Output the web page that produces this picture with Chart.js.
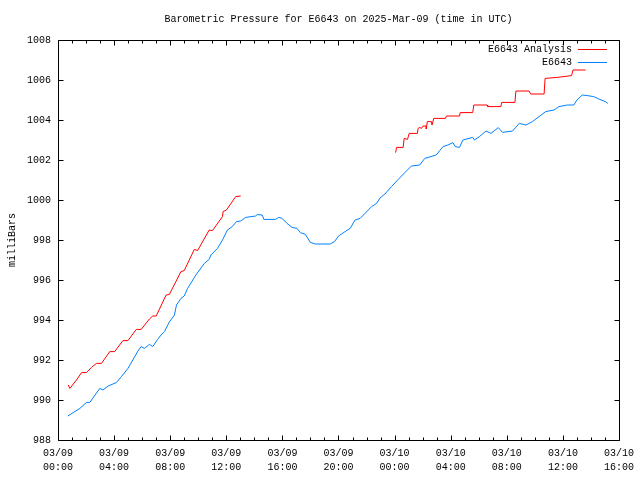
<!DOCTYPE html>
<html>
<head>
<meta charset="utf-8">
<title>Barometric Pressure E6643</title>
<script src="https://cdn.jsdelivr.net/npm/chart.js@4"></script>
<style>
  body { margin: 0; background: #fff; }
</style>
</head>
<body>
<canvas id="pressureChart" width="640" height="480"></canvas>
<script>
// chart text
const chartTitle = 'Barometric Pressure for E6643 on 2025-Mar-09 (time in UTC)';
const yTitle = 'milliBars';
// tick labels, one per 4 hours starting 03/09 00:00
const xTickDates = ['03/09', '03/09', '03/09', '03/09', '03/09', '03/09', '03/10', '03/10', '03/10', '03/10', '03/10'];
const xTickTimes = ['00:00', '04:00', '08:00', '12:00', '16:00', '20:00', '00:00', '04:00', '08:00', '12:00', '16:00'];

// E6643 Analysis (hours since 03/09 00:00 UTC, mbar); null = no data
const analysisHours = [0.73, 0.85, 1.32, 1.68, 2.03, 2.39, 2.74, 3.10, 3.69, 4.04, 4.63, 4.99, 5.58, 5.93,
  6.52, 6.76, 7.00, 7.71, 7.94, 8.77, 9.00, 9.72, 9.95, 10.78, 11.01, 11.73, 11.77, 12.01, 12.67, 13.03,
  18.00,
  24.07, 24.14, 24.61, 24.68, 24.92, 25.04, 25.63, 25.67, 25.79, 25.91, 26.03, 26.26, 26.26, 26.33, 26.62,
  26.67, 26.79, 27.62, 27.70, 28.63, 28.68, 29.57, 29.65, 30.59, 30.64, 31.58, 31.63, 32.58, 32.65, 33.59,
  33.70, 34.66, 34.73, 35.60, 36.62, 36.72, 37.62];
const analysisMbar = [990.75, 990.58, 991.00, 991.37, 991.37, 991.63, 991.83, 991.83, 992.42, 992.42, 992.97, 992.97, 993.53, 993.53,
  994.05, 994.20, 994.20, 995.25, 995.28, 996.42, 996.47, 997.53, 997.47, 998.50, 998.47, 999.17, 999.42, 999.50, 1000.17, 1000.20,
  null,
  1002.37, 1002.63, 1002.63, 1003.08, 1003.03, 1003.33, 1003.33, 1003.58, 1003.63, 1003.58, 1003.70, 1003.70, 1003.55, 1003.92, 1003.92,
  1003.75, 1004.08, 1004.08, 1004.20, 1004.20, 1004.37, 1004.37, 1004.75, 1004.75, 1004.67, 1004.67, 1004.88, 1004.88, 1005.45, 1005.45,
  1005.30, 1005.30, 1006.08, 1006.13, 1006.22, 1006.50, 1006.50];

// E6643 station observations
const stationHours = [0.69, 1.56, 2.03, 2.27, 2.98, 3.21, 3.57, 4.16, 4.52, 4.99, 5.70, 5.93, 6.17, 6.52, 6.76,
  7.10, 7.35, 7.59, 7.94, 8.30, 8.45, 8.77, 9.00, 9.24, 9.83, 10.43, 10.78, 10.90, 11.37, 11.73, 12.08,
  12.43, 12.72, 13.03, 13.38, 14.09, 14.20, 14.56, 14.68, 15.51, 15.74, 15.98, 16.33, 16.69, 17.04, 17.28,
  17.64, 17.99, 18.35, 19.41, 19.72, 20.00, 20.47, 20.83, 21.18, 21.54, 21.89, 22.36, 22.72, 22.96, 23.31,
  23.78, 24.26, 24.73, 25.20, 25.79, 26.15, 26.97, 27.45, 27.80, 28.16, 28.32, 28.63, 28.87, 29.57, 29.69,
  30.05, 30.52, 30.87, 31.39, 31.70, 32.41, 32.89, 33.36, 33.83, 34.30, 34.77, 35.37, 35.72, 36.31, 36.78,
  37.00, 37.38, 37.73, 38.20, 38.56, 39.03, 39.20];
const stationMbar = [989.20, 989.58, 989.88, 989.88, 990.58, 990.50, 990.70, 990.87, 991.17, 991.58, 992.45, 992.67, 992.58, 992.78, 992.67,
  993.03, 993.25, 993.42, 993.90, 994.25, 994.75, 995.08, 995.20, 995.58, 996.25, 996.83, 997.03, 997.25, 997.58, 998.00, 998.50,
  998.67, 998.92, 998.95, 999.13, 999.20, 999.27, 999.25, 999.03, 999.03, 999.13, 999.08, 998.83, 998.63, 998.58, 998.37,
  998.28, 997.88, 997.80, 997.80, 997.92, 998.20, 998.42, 998.58, 999.00, 999.08, 999.33, 999.67, 999.83, 1000.10, 1000.30,
  1000.67, 1001.03, 1001.37, 1001.70, 1001.75, 1002.08, 1002.25, 1002.67, 1002.75, 1002.87, 1002.67, 1002.63, 1003.00, 1003.13, 1003.00,
  1003.17, 1003.45, 1003.33, 1003.62, 1003.38, 1003.45, 1003.83, 1003.75, 1003.92, 1004.17, 1004.42, 1004.50, 1004.67, 1004.75, 1004.75,
  1005.00, 1005.25, 1005.22, 1005.17, 1005.05, 1004.92, 1004.83];

const toPoints = (xs, ys) => xs.map((x, i) => ({ x: x, y: ys[i] }));

// gnuplot-like frame: full border, ticks pointing inward on all sides
const frameTicks = {
  id: 'frameTicks',
  afterDraw(chart) {
    const { ctx, chartArea: a, scales: { x, y } } = chart;
    const px = v => Math.round(v) + 0.5;
    ctx.save();
    ctx.strokeStyle = '#000';
    ctx.lineWidth = 1;
    ctx.beginPath();
    ctx.rect(px(a.left), px(a.top), Math.round(a.right) - Math.round(a.left), Math.round(a.bottom) - Math.round(a.top));
    for (let h = x.min; h <= x.max; h++) {
      const xp = px(x.getPixelForValue(h));
      const len = h % 4 === 0 ? 5 : 3;
      ctx.moveTo(xp, px(a.bottom)); ctx.lineTo(xp, px(a.bottom) - len);
      ctx.moveTo(xp, px(a.top)); ctx.lineTo(xp, px(a.top) + len);
    }
    y.ticks.forEach(t => {
      const yp = px(y.getPixelForValue(t.value));
      ctx.moveTo(px(a.left), yp); ctx.lineTo(px(a.left) + 5, yp);
      ctx.moveTo(px(a.right), yp); ctx.lineTo(px(a.right) - 5, yp);
    });
    ctx.stroke();

    // legend, top right inside the frame: text then line sample
    ctx.font = '10px "Liberation Mono", "DejaVu Sans Mono", monospace';
    ctx.textAlign = 'right';
    ctx.textBaseline = 'middle';
    chart.data.datasets.forEach((ds, i) => {
      const ly = Math.round(a.top + 9 + i * 13) + 0.5;
      ctx.fillStyle = '#000';
      ctx.fillText(ds.label, a.right - 47, ly);
      ctx.strokeStyle = ds.borderColor;
      ctx.beginPath();
      ctx.moveTo(a.right - 41, ly);
      ctx.lineTo(a.right - 12, ly);
      ctx.stroke();
    });
    ctx.restore();
  }
};

Chart.defaults.font.family = '"Liberation Mono", "DejaVu Sans Mono", monospace';
Chart.defaults.font.size = 10;
Chart.defaults.color = '#000';

new Chart(document.getElementById('pressureChart'), {
  type: 'line',
  data: {
    datasets: [
      {
        label: 'E6643 Analysis',
        data: toPoints(analysisHours, analysisMbar),
        borderColor: '#ff0000',
        borderWidth: 1,
        pointRadius: 0,
        spanGaps: false,
        fill: false
      },
      {
        label: 'E6643',
        data: toPoints(stationHours, stationMbar),
        borderColor: '#0080ff',
        borderWidth: 1,
        pointRadius: 0,
        fill: false
      }
    ]
  },
  options: {
    responsive: false,
    animation: false,
    layout: { padding: { left: 0, right: 18, top: 0, bottom: 0 } },
    plugins: {
      legend: { display: false },
      tooltip: { enabled: false },
      title: {
        display: true,
        text: chartTitle,
        fullSize: false,
        font: { size: 10, weight: 'normal' },
        padding: { top: 13, bottom: 15 }
      }
    },
    scales: {
      x: {
        type: 'linear',
        min: 0,
        max: 40,
        grid: { display: false, drawTicks: false },
        border: { display: false },
        ticks: {
          stepSize: 4,
          padding: 6,
          maxRotation: 0,
          autoSkip: false,
          font: { size: 10, lineHeight: 1.4 },
          callback: (v, i) => [xTickDates[i], xTickTimes[i]]
        },
        afterFit: s => { s.height = 40; }
      },
      y: {
        min: 988,
        max: 1008,
        grid: { display: false, drawTicks: false },
        border: { display: false },
        ticks: {
          stepSize: 2,
          padding: 7,
          callback: v => String(v)
        },
        title: { display: true, text: yTitle, padding: { top: 6, bottom: 0 } },
        afterFit: s => { s.width = 58; }
      }
    }
  },
  plugins: [frameTicks]
});
</script>
</body>
</html>
